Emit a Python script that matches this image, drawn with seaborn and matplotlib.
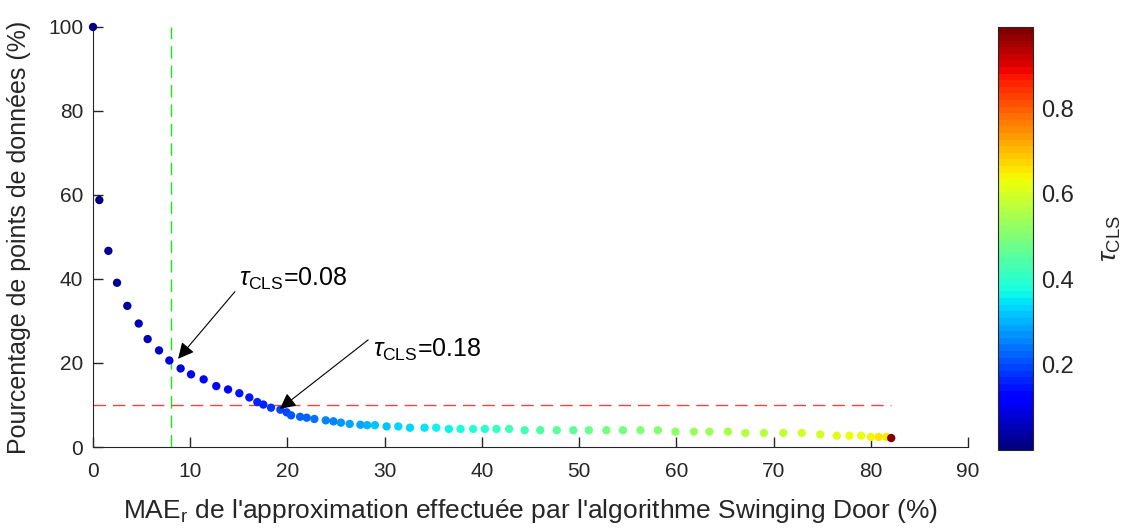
import numpy as np
import pandas as pd
import matplotlib
matplotlib.use("Agg")
import matplotlib.pyplot as plt
import seaborn as sns

# tau_CLS values (0.00 .. 0.66 then 0.99)
tau = [round(0.01 * i, 2) for i in range(67)] + [0.99]

# MAE_r (%) of the Swinging Door approximation
mae_r = [0.0, 0.65, 1.58, 2.47, 3.53, 4.70, 5.62, 6.79, 7.85, 9.01,
         10.08, 11.38, 12.68, 13.89, 15.05, 16.08, 16.9, 17.52, 18.31, 19.27,
         19.92, 20.37, 21.3, 21.98, 22.77, 23.94, 24.73, 25.5, 26.4, 27.5,
         28.2, 29.0, 30.2, 31.4, 32.6, 34.1, 35.3, 36.6, 37.8, 39.1,
         40.3, 41.5, 42.8, 44.4, 46.0, 47.7, 49.4, 51.0, 52.8, 54.5,
         56.3, 58.1, 59.9, 61.8, 63.4, 65.3, 67.1, 69.0, 71.0, 72.9,
         74.8, 76.5, 77.8, 79.0, 80.0, 80.8, 81.6, 82.1]

# percentage of kept data points
pct_points = [100.0, 58.8, 46.7, 39.1, 33.6, 29.4, 25.7, 23.0, 20.6, 18.7,
              17.3, 16.1, 14.5, 13.7, 12.8, 11.8, 10.7, 10.1, 9.36, 8.89,
              8.25, 7.54, 7.2, 6.98, 6.67, 6.35, 6.11, 5.8, 5.5, 5.3,
              5.2, 5.2, 4.9, 4.9, 4.6, 4.6, 4.6, 4.3, 4.3, 4.3,
              4.3, 4.3, 4.3, 4.0, 4.0, 4.0, 4.0, 4.0, 4.0, 4.0,
              4.0, 4.0, 3.65, 3.65, 3.65, 3.65, 3.35, 3.35, 3.35, 3.35,
              3.0, 2.7, 2.7, 2.7, 2.4, 2.4, 2.4, 2.14]

x_ticks = [0, 10, 20, 30, 40, 50, 60, 70, 80, 90]
y_ticks = [0, 20, 40, 60, 80, 100]
cbar_ticks = [0.2, 0.4, 0.6, 0.8]
mae_threshold = 8
pct_threshold = 10
marked_tau = [0.08, 0.18]

df = pd.DataFrame({"tau": tau, "mae": mae_r, "pct": pct_points})

sns.set_style("ticks")
plt.rcParams["font.family"] = ["Liberation Sans", "DejaVu Sans"]
plt.rcParams["mathtext.fontset"] = "custom"
plt.rcParams["mathtext.rm"] = "Liberation Sans"
plt.rcParams["mathtext.it"] = "Liberation Sans:italic"
plt.rcParams["xtick.direction"] = "in"
plt.rcParams["ytick.direction"] = "in"

gray = "#262626"
cmap = plt.get_cmap("jet", 64)
norm = matplotlib.colors.Normalize(vmin=0, vmax=0.99)

fig = plt.figure(figsize=(11.26, 5.28), dpi=100)
ax = fig.add_axes([0.0826, 0.1534, 0.7771, 0.7955])

# reference lines
ax.plot([mae_threshold, mae_threshold], [0, 100], color="#11ee11", lw=1,
        dashes=(9, 5), zorder=1)
ax.plot([0, max(mae_r)], [pct_threshold, pct_threshold], color="#f04444",
        lw=1, dashes=(9, 5), zorder=1)

sns.scatterplot(data=df, x="mae", y="pct", hue="tau", palette=cmap,
                hue_norm=norm, s=36, edgecolor="none", legend=False,
                ax=ax, zorder=3, clip_on=False)

# annotations
arrow = dict(arrowstyle="-|>", color="black", lw=0.8, mutation_scale=24,
             shrinkA=0, shrinkB=0)
i1 = tau.index(marked_tau[0])
ax.annotate("", xy=(mae_r[i1] + 0.9, pct_points[i1] + 0.4),
            xytext=(14.6, 37.0), arrowprops=arrow, zorder=4)
ax.text(15.0, 40.0, r"$\tau_{\mathrm{CLS}}$=0.08", fontsize=18,
        ha="left", va="center", color="black")
i2 = tau.index(marked_tau[1])
ax.annotate("", xy=(mae_r[i2] + 0.9, pct_points[i2] - 0.3),
            xytext=(28.3, 25.5), arrowprops=arrow, zorder=4)
ax.text(28.8, 23.0, r"$\tau_{\mathrm{CLS}}$=0.18", fontsize=18,
        ha="left", va="center", color="black")

ax.set_xlim(0, 90)
ax.set_ylim(0, 100)
ax.set_xticks(x_ticks)
ax.set_yticks(y_ticks)
ax.tick_params(labelsize=15, colors=gray, length=7, width=1)
ax.tick_params(axis="x", pad=11)
ax.tick_params(axis="y", pad=7)
ax.set_xlabel(r"MAE$_\mathrm{r}$ de l'approximation effectuée par l'algorithme Swinging Door (%)",
              fontsize=19, color=gray, labelpad=11)
ax.set_ylabel("Pourcentage de points de données (%)", fontsize=18,
              color=gray, labelpad=12)
sns.despine(ax=ax)
for side in ["left", "bottom"]:
    ax.spines[side].set_color(gray)

# colorbar
cax = fig.add_axes([0.8863, 0.1477, 0.0311, 0.8006])
sm = matplotlib.cm.ScalarMappable(norm=norm, cmap=cmap)
cb = fig.colorbar(sm, cax=cax, ticks=cbar_ticks)
cb.ax.tick_params(labelsize=17, colors=gray, direction="in", length=5, pad=6)
cb.outline.set_edgecolor(gray)
cb.set_label(r"$\tau_{\mathrm{CLS}}$", fontsize=19, color=gray, labelpad=18)

fig.savefig("out.png", dpi=100)
